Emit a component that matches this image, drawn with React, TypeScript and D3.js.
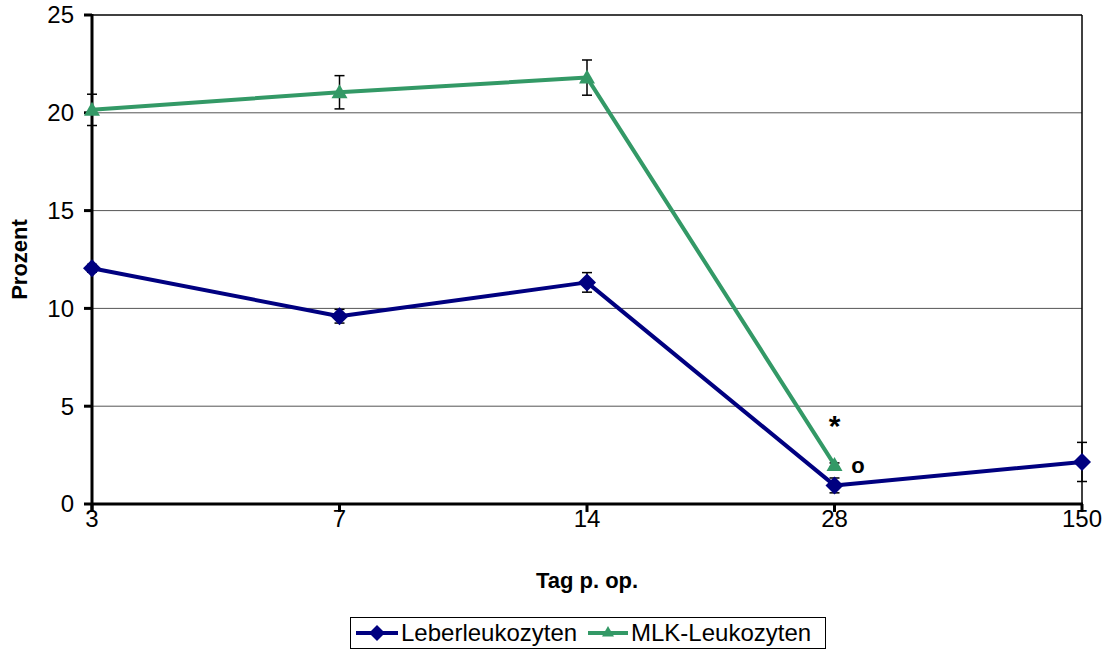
import React from "react";
import * as d3 from "d3";

const categories = ["3", "7", "14", "28", "150"];
const leberValues = [12.05, 9.6, 11.33, 0.95, 2.15];
const leberErrors = [0.2, 0.35, 0.5, 0.38, 1.0];
const mlkValues = [20.15, 21.05, 21.8, 2.0];
const mlkErrors = [0.8, 0.85, 0.9, 0.1];
const yTicks = [0, 5, 10, 15, 20, 25];

const W = 1106, H = 651;
const m = { left: 92, right: 1082, top: 15, bottom: 504 };

export default function App() {
  const x = d3.scalePoint<string>().domain(categories).range([m.left, m.right]).padding(0);
  const y = d3.scaleLinear().domain([0, 25]).range([m.bottom, m.top]);
  const line = d3.line<[number, number]>().x(d => d[0]).y(d => d[1]);
  const leberPts: [number, number][] = leberValues.map((v, i) => [x(categories[i])!, y(v)]);
  const mlkPts: [number, number][] = mlkValues.map((v, i) => [x(categories[i])!, y(v)]);
  const navy = "#000080";
  const green = "#339966";
  const font = "Arial, 'Liberation Sans', sans-serif";
  const diamond = (cx: number, cy: number, r = 9) => `M${cx},${cy - r}L${cx + r},${cy}L${cx},${cy + r}L${cx - r},${cy}Z`;
  const tri = (cx: number, cy: number, r = 8) => `M${cx},${cy - r}L${cx + r},${cy + r * 0.75}L${cx - r},${cy + r * 0.75}Z`;
  const errBar = (cx: number, v: number, e: number, k: string) => (
    <g key={k} stroke="#000" strokeWidth={1.5}>
      <line x1={cx} x2={cx} y1={y(v + e)} y2={y(v - e)} />
      <line x1={cx - 5} x2={cx + 5} y1={y(v + e)} y2={y(v + e)} />
      <line x1={cx - 5} x2={cx + 5} y1={y(v - e)} y2={y(v - e)} />
    </g>
  );
  return (
    <svg width={W} height={H} style={{ position: "absolute", left: 0, top: 0 }} fontFamily={font}>
      <rect width={W} height={H} fill="#fff" />
      {yTicks.filter(t => t > 0).map(t => (
        <line key={t} x1={m.left} x2={m.right} y1={y(t)} y2={y(t)} stroke={t === 25 ? "#000" : "#555"} strokeWidth={t === 25 ? 1.5 : 1} />
      ))}
      <line x1={m.right} x2={m.right} y1={m.top} y2={m.bottom} stroke="#000" strokeWidth={1.5} />
      {leberValues.map((v, i) => errBar(x(categories[i])!, v, leberErrors[i], "le" + i))}
      {mlkValues.map((v, i) => errBar(x(categories[i])!, v, mlkErrors[i], "me" + i))}
      <line x1={m.left} x2={m.left} y1={m.top - 1} y2={m.bottom + 8} stroke="#000" strokeWidth={3} />
      <line x1={m.left} x2={m.right + 1} y1={m.bottom} y2={m.bottom} stroke="#000" strokeWidth={3} />
      {yTicks.map(t => (
        <g key={t}>
          <line x1={m.left - 8} x2={m.left} y1={y(t)} y2={y(t)} stroke="#000" strokeWidth={3} />
          <text x={74} y={y(t)} dy="0.35em" textAnchor="end" fontSize={24}>{t}</text>
        </g>
      ))}
      {categories.map(c => (
        <g key={c}>
          <line x1={x(c)!} x2={x(c)!} y1={m.bottom} y2={m.bottom + 8} stroke="#000" strokeWidth={3} />
          <text x={x(c)!} y={527} textAnchor="middle" fontSize={24}>{c}</text>
        </g>
      ))}
      <path d={line(leberPts)!} fill="none" stroke={navy} strokeWidth={4} strokeLinejoin="round" />
      <path d={line(mlkPts)!} fill="none" stroke={green} strokeWidth={4} strokeLinejoin="round" />
      {leberPts.map((p, i) => <path key={"ld" + i} d={diamond(p[0], p[1])} fill={navy} />)}
      {mlkPts.map((p, i) => <path key={"mt" + i} d={tri(p[0], p[1])} fill={green} />)}
      <text x={x("28")!} y={436} textAnchor="middle" fontSize={30} fontWeight="bold">*</text>
      <text x={858} y={473} textAnchor="middle" fontSize={22} fontWeight="bold">o</text>
      <text transform={`translate(27,${(m.top + m.bottom) / 2}) rotate(-90)`} textAnchor="middle" fontSize={22} fontWeight="bold">Prozent</text>
      <text x={(m.left + m.right) / 2} y={588} textAnchor="middle" fontSize={22} fontWeight="bold">Tag p. op.</text>
      <g>
        <rect x={350.5} y={617.5} width={475} height={31} fill="#fff" stroke="#000" strokeWidth={1} />
        <line x1={356} x2={398} y1={633} y2={633} stroke={navy} strokeWidth={4} />
        <path d={diamond(377, 633, 8)} fill={navy} />
        <text x={401} y={633} dy="0.35em" fontSize={24}>Leberleukozyten</text>
        <line x1={588} x2={628} y1={633} y2={633} stroke={green} strokeWidth={4} />
        <path d={tri(608, 632, 6)} fill={green} />
        <text x={631} y={633} dy="0.35em" fontSize={24}>MLK-Leukozyten</text>
      </g>
    </svg>
  );
}
